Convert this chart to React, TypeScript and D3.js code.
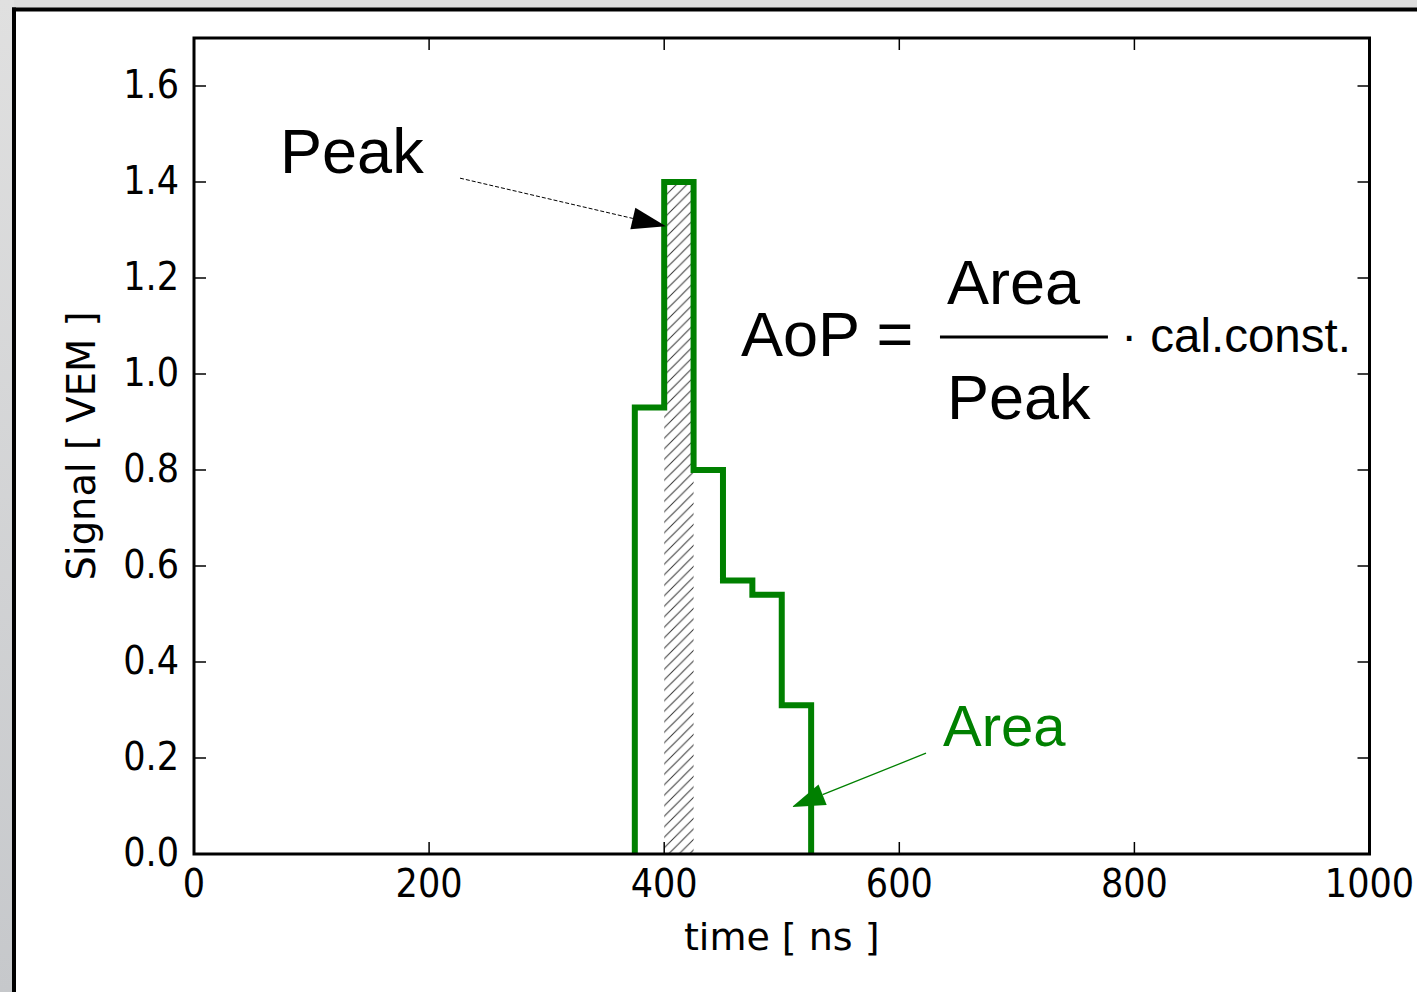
import React from "react";
import * as d3 from "d3";

// ---- data ----
const binEdges = [375, 400, 425, 450, 475, 500, 525];
const signal = [0.93, 1.4, 0.8, 0.57, 0.54, 0.31];
const xTicks = [0, 200, 400, 600, 800, 1000];
const yTicks = [0, 0.2, 0.4, 0.6, 0.8, 1.0, 1.2, 1.4, 1.6];
const xDomain = [0, 1000];
const yDomain = [0, 1.7];
const peakBin = [400, 425];
const peakValue = 1.4;

// annotation anchors (data coordinates)
const peakText = [73.2, 1.419];
const peakArrowFrom = [226.3, 1.408];
const peakArrowTo = [401.5, 1.308];
const areaText = [637.2, 0.225];
const areaArrowFrom = [622.7, 0.21];
const areaArrowTo = [508.7, 0.098];
const aopPos = [465.3, 1.0375];
const numPos = [640.6, 1.146];
const denPos = [640.6, 0.906];
const fracLine = [634.6, 777.5, 1.077];
const calPos = [788.8, 1.046];

const W = 1417;
const H = 992;
const M = { left: 194, right: 1369.5, top: 38, bottom: 854 };
const GREEN = "#008000";
const ANNOT_FONT = "'Liberation Sans', Arial, sans-serif";
const AXIS_FONT = "'DejaVu Sans', sans-serif";

function arrowHead(from: number[], to: number[], len: number, wid: number) {
  const dx = from[0] - to[0];
  const dy = from[1] - to[1];
  const d = Math.hypot(dx, dy);
  const ux = dx / d, uy = dy / d;
  const bx = to[0] + ux * len, by = to[1] + uy * len;
  const px = -uy * wid / 2, py = ux * wid / 2;
  return {
    points: `${to[0]},${to[1]} ${bx + px},${by + py} ${bx - px},${by - py}`,
    base: [bx, by],
  };
}

export default function App() {
  const x = d3.scaleLinear().domain(xDomain).range([M.left, M.right]);
  const y = d3.scaleLinear().domain(yDomain).range([M.bottom, M.top]);

  const pts: [number, number][] = [[binEdges[0], 0]];
  signal.forEach((v, i) => pts.push([binEdges[i], v]));
  pts.push([binEdges[binEdges.length - 1], 0]);
  const stepPath = d3
    .line<[number, number]>()
    .x((d) => x(d[0]))
    .y((d) => y(d[1]))
    .curve(d3.curveStepAfter)(pts) as string;

  const pFrom = [x(peakArrowFrom[0]), y(peakArrowFrom[1])];
  const pTo = [x(peakArrowTo[0]), y(peakArrowTo[1])];
  const pHead = arrowHead(pFrom, pTo, 34, 22);
  const aFrom = [x(areaArrowFrom[0]), y(areaArrowFrom[1])];
  const aTo = [x(areaArrowTo[0]), y(areaArrowTo[1])];
  const aHead = arrowHead(aFrom, aTo, 33, 22);

  const tickLen = 12;
  const hs = 10.5;

  return (
    <svg
      width={W}
      height={H}
      style={{ position: "absolute", left: 0, top: 0, display: "block" }}
    >
      <defs>
        <linearGradient id="leftGrey" x1="0" y1="0" x2="0" y2="1">
          <stop offset="0" stopColor="#e0e0e0" />
          <stop offset="1" stopColor="#c6c8cb" />
        </linearGradient>
        <pattern id="hatch" patternUnits="userSpaceOnUse" width={hs} height={hs}>
          <path
            d={`M0,${hs} L${hs},0 M-2,2 L2,-2 M${hs - 2},${hs + 2} L${hs + 2},${hs - 2}`}
            stroke="#333"
            strokeWidth={1}
          />
        </pattern>
        <clipPath id="plotClip">
          <rect x={M.left} y={M.top} width={M.right - M.left} height={M.bottom - M.top} />
        </clipPath>
      </defs>

      {/* window frame */}
      <rect x={0} y={0} width={W} height={H} fill="#dcdcdc" />
      <rect x={0} y={0} width={14} height={H} fill="url(#leftGrey)" />
      <rect x={14} y={9.5} width={W - 14} height={H - 9.5} fill="#ffffff" />
      <line x1={12} x2={W} y1={9.5} y2={9.5} stroke="#000" strokeWidth={4} />
      <line x1={14} x2={14} y1={7.5} y2={H} stroke="#000" strokeWidth={4} />

      {/* hatched peak bin */}
      <rect
        x={x(peakBin[0])}
        y={y(peakValue)}
        width={x(peakBin[1]) - x(peakBin[0])}
        height={y(0) - y(peakValue)}
        fill="url(#hatch)"
      />

      {/* step signal */}
      <g clipPath="url(#plotClip)">
        <path d={stepPath} fill="none" stroke={GREEN} strokeWidth={6} strokeLinejoin="miter" />
      </g>

      {/* ticks */}
      {xTicks.map((t) => (
        <g key={"xt" + t}>
          <line x1={x(t)} x2={x(t)} y1={M.bottom} y2={M.bottom - tickLen} stroke="#000" strokeWidth={1.5} />
          <line x1={x(t)} x2={x(t)} y1={M.top} y2={M.top + tickLen} stroke="#000" strokeWidth={1.5} />
          <text
            transform={`translate(${x(t)},${M.bottom + 43}) scale(0.9,1)`}
            textAnchor="middle"
            fontFamily={AXIS_FONT}
            fontSize={39}
            fill="#000"
          >
            {t}
          </text>
        </g>
      ))}
      {yTicks.map((t) => (
        <g key={"yt" + t}>
          <line x1={M.left} x2={M.left + tickLen} y1={y(t)} y2={y(t)} stroke="#000" strokeWidth={1.5} />
          <line x1={M.right} x2={M.right - tickLen} y1={y(t)} y2={y(t)} stroke="#000" strokeWidth={1.5} />
          <text
            transform={`translate(${M.left - 15},${y(t) + 12}) scale(0.9,1)`}
            textAnchor="end"
            fontFamily={AXIS_FONT}
            fontSize={39}
            fill="#000"
          >
            {t.toFixed(1)}
          </text>
        </g>
      ))}

      {/* axes box */}
      <rect
        x={M.left}
        y={M.top}
        width={M.right - M.left}
        height={M.bottom - M.top}
        fill="none"
        stroke="#000"
        strokeWidth={3}
      />

      {/* axis labels */}
      <text
        x={(M.left + M.right) / 2}
        y={950}
        textAnchor="middle"
        fontFamily={AXIS_FONT}
        fontSize={38}
        fill="#000"
      >
        time [ ns ]
      </text>
      <text
        transform={`translate(95,${(M.top + M.bottom) / 2}) rotate(-90)`}
        textAnchor="middle"
        fontFamily={AXIS_FONT}
        fontSize={38.5}
        fill="#000"
      >
        Signal [ VEM ]
      </text>

      {/* Peak annotation */}
      <text x={x(peakText[0])} y={y(peakText[1])} fontFamily={ANNOT_FONT} fontSize={63} fill="#000">
        Peak
      </text>
      <line
        x1={pFrom[0]}
        y1={pFrom[1]}
        x2={pHead.base[0]}
        y2={pHead.base[1]}
        stroke="#000"
        strokeWidth={1}
        strokeDasharray="4,2"
      />
      <polygon points={pHead.points} fill="#000" />

      {/* Area annotation */}
      <text x={x(areaText[0])} y={y(areaText[1])} fontFamily={ANNOT_FONT} fontSize={58} fill={GREEN}>
        Area
      </text>
      <line
        x1={aFrom[0]}
        y1={aFrom[1]}
        x2={aHead.base[0]}
        y2={aHead.base[1]}
        stroke={GREEN}
        strokeWidth={1.3}
      />
      <polygon points={aHead.points} fill={GREEN} />

      {/* formula */}
      <text x={x(aopPos[0])} y={y(aopPos[1])} fontFamily={ANNOT_FONT} fontSize={63} fill="#000">
        AoP =
      </text>
      <text x={x(numPos[0])} y={y(numPos[1])} fontFamily={ANNOT_FONT} fontSize={63} fill="#000">
        Area
      </text>
      <line
        x1={x(fracLine[0])}
        x2={x(fracLine[1])}
        y1={y(fracLine[2])}
        y2={y(fracLine[2])}
        stroke="#000"
        strokeWidth={3}
      />
      <text x={x(denPos[0])} y={y(denPos[1])} fontFamily={ANNOT_FONT} fontSize={63} fill="#000">
        Peak
      </text>
      <text x={x(calPos[0])} y={y(calPos[1])} fontFamily={ANNOT_FONT} fontSize={47.5} fill="#000">
        · cal.const.
      </text>
    </svg>
  );
}
